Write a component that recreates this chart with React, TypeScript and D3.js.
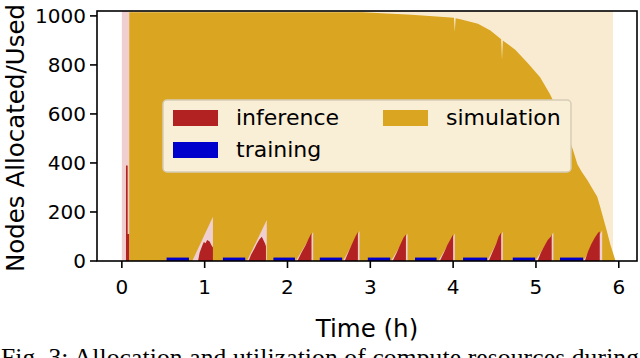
import * as d3 from 'd3';

// time in hours, nodes
const xTicks = [0, 1, 2, 3, 4, 5, 6];
const yTicks = [0, 200, 400, 600, 800, 1000];

const simulationAllocated: [number, number][] = [
  [0.088, 0], [0.088, 1024], [5.93, 1024], [5.93, 0],
];

const simulationUsed: [number, number][] = [
  [0.088, 0], [0.088, 1015], [2.9, 1015], [3.2, 1010], [3.5, 1005], [3.8, 998],
  [4.01, 992], [4.02, 935], [4.03, 990], [4.1, 985], [4.3, 968], [4.45, 940],
  [4.58, 905], [4.59, 820], [4.6, 900], [4.75, 862], [4.9, 808], [5.05, 750],
  [5.17, 680], [5.27, 610], [5.37, 530], [5.45, 450], [5.5, 395], [5.55, 365],
  [5.62, 330], [5.7, 285], [5.74, 262], [5.78, 215], [5.85, 130], [5.9, 65],
  [5.95, 12], [5.96, 0],
];

const inferenceAllocated: [number, number][][] = [
  [[0.0, 0], [0.0, 1024], [0.088, 1024], [0.088, 0]],
  [[0.85, 0], [1.1, 181], [1.1, 0]],
  [[1.51, 0], [1.75, 167], [1.75, 0]],
  [[2.1, 0], [2.31, 118], [2.31, 0]],
  [[2.67, 0], [2.87, 122], [2.87, 0]],
  [[3.25, 0], [3.45, 112], [3.45, 0]],
  [[3.82, 0], [4.02, 112], [4.02, 0]],
  [[4.41, 0], [4.6, 120], [4.6, 0]],
  [[4.99, 0], [5.21, 116], [5.21, 0]],
  [[5.57, 0], [5.8, 124], [5.8, 0]],
];

const inferenceUsed: [number, number][][] = [
  [[0.05, 0], [0.05, 390], [0.07, 390], [0.07, 110], [0.088, 110], [0.088, 0]],
  [[0.92, 0], [0.94, 35], [0.97, 62], [0.99, 78], [1.01, 72], [1.03, 86], [1.06, 80], [1.08, 65], [1.1, 55], [1.1, 0]],
  [[1.53, 0], [1.56, 25], [1.6, 50], [1.63, 70], [1.66, 88], [1.69, 99], [1.71, 85], [1.73, 70], [1.74, 60], [1.74, 0]],
  [[2.12, 0], [2.17, 35], [2.22, 65], [2.26, 95], [2.29, 114], [2.29, 0]],
  [[2.69, 0], [2.74, 40], [2.78, 70], [2.82, 100], [2.85, 118], [2.85, 0]],
  [[3.27, 0], [3.32, 35], [3.36, 65], [3.4, 95], [3.43, 108], [3.43, 0]],
  [[3.84, 0], [3.89, 35], [3.93, 65], [3.97, 90], [4.0, 108], [4.0, 0]],
  [[4.43, 0], [4.48, 40], [4.52, 70], [4.55, 100], [4.58, 116], [4.58, 0]],
  [[5.02, 0], [5.06, 35], [5.1, 60], [5.14, 85], [5.18, 100], [5.19, 110], [5.19, 0]],
  [[5.59, 0], [5.63, 40], [5.67, 70], [5.71, 95], [5.75, 115], [5.77, 120], [5.77, 0]],
];

const trainingRuns: [number, number][] = [
  [0.54, 0.81], [1.22, 1.49], [1.83, 2.09], [2.39, 2.66], [2.97, 3.24],
  [3.54, 3.8], [4.12, 4.41], [4.72, 4.99], [5.29, 5.57],
];
const trainingNodes = 14;

const legendItems = [
  { label: 'inference', color: '#b22222', col: 0, row: 0 },
  { label: 'training', color: '#0000cd', col: 0, row: 1 },
  { label: 'simulation', color: '#daa520', col: 1, row: 0 },
];

export default function App() {
  const width = 640;
  const height = 358;
  const margin = { top: 11, right: 3, bottom: 97, left: 97 };
  const font = 'DejaVu Sans';

  const x = d3.scaleLinear().domain([-0.3, 6.22]).range([margin.left, width - margin.right]);
  const y = d3.scaleLinear().domain([0, 1020]).range([height - margin.bottom, margin.top]);

  const area = d3.area<[number, number]>()
    .x(d => x(d[0]))
    .y0(y(0))
    .y1(d => y(d[1]));

  const x0 = margin.left;
  const x1 = width - margin.right;
  const y0 = height - margin.bottom;
  const y1 = margin.top;

  return (
    <svg width={width} height={height} style={{ position: 'absolute', left: 0, top: 0 }}>
      <defs>
        <clipPath id="plot">
          <rect x={x0} y={y1} width={x1 - x0} height={y0 - y1} />
        </clipPath>
      </defs>
      <rect width={width} height={height} fill="white" />
      <g clipPath="url(#plot)">
        <path d={area(simulationAllocated) ?? ''} fill="#f8ebd1" />
        <path d={area(simulationUsed) ?? ''} fill="#daa520" />
        {inferenceAllocated.map((s, i) => (
          <path key={'ia' + i} d={area(s) ?? ''} fill="#f0cfd0" />
        ))}
        {inferenceUsed.map((s, i) => (
          <path key={'iu' + i} d={area(s) ?? ''} fill="#b22222" />
        ))}
        {trainingRuns.map((r, i) => (
          <rect key={'t' + i} x={x(r[0])} width={x(r[1]) - x(r[0])}
            y={y(trainingNodes)} height={y(0) - y(trainingNodes)} fill="#0000cd" />
        ))}
      </g>

      {/* legend */}
      <g>
        <rect x={163} y={100} width={408} height={72} rx={4} fill="#f9eed6" stroke="#d6cdb6" strokeWidth={1.5} />
        {legendItems.map(d => {
          const hx = 173 + d.col * 210;
          const hy = 110 + d.row * 32;
          return (
            <g key={d.label}>
              <rect x={hx} y={hy} width={45} height={16} fill={d.color} />
              <text x={hx + 63} y={hy + 15} fontFamily={font} fontSize={22} fill="black">{d.label}</text>
            </g>
          );
        })}
      </g>

      {/* frame */}
      <rect x={x0} y={y1} width={x1 - x0} height={y0 - y1} fill="none" stroke="black" strokeWidth={1.6} />

      {xTicks.map(t => (
        <g key={'x' + t}>
          <line x1={x(t)} x2={x(t)} y1={y0} y2={y0 + 7} stroke="black" strokeWidth={1.6} />
          <text x={x(t)} y={y0 + 33} textAnchor="middle" fontFamily={font} fontSize={20}>{t}</text>
        </g>
      ))}
      {yTicks.map(t => (
        <g key={'y' + t}>
          <line x1={x0 - 7} x2={x0} y1={y(t)} y2={y(t)} stroke="black" strokeWidth={1.6} />
          <text x={x0 - 11} y={y(t)} dy="0.36em" textAnchor="end" fontFamily={font} fontSize={20}>{t}</text>
        </g>
      ))}

      <text x={(x0 + x1) / 2} y={337} textAnchor="middle" fontFamily={font} fontSize={24.5}>Time (h)</text>
      <text transform={`translate(24,${(y0 + y1) / 2 + 2}) rotate(-90)`} textAnchor="middle" fontFamily={font} fontSize={24.5}>
        Nodes Allocated/Used
      </text>

      <text x={1} y={366} fontFamily="Liberation Serif" fontSize={25.5} textLength={638} lengthAdjust="spacing">
        Fig. 3: Allocation and utilization of compute resources during
      </text>
    </svg>
  );
}
